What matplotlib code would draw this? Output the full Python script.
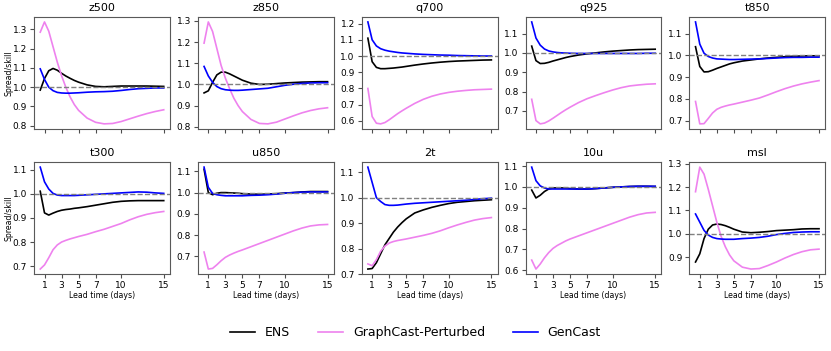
import numpy as np
import matplotlib
matplotlib.use("Agg")
import matplotlib.pyplot as plt
from matplotlib.ticker import MultipleLocator

# lead time in days
lead = [0.5, 1, 1.5, 2, 2.5, 3, 3.5, 4, 4.5, 5, 6, 7, 8, 9, 10, 11, 12, 13, 14, 15]

variables = ['z500', 'z850', 'q700', 'q925', 't850',
             't300', 'u850', '2t', '10u', 'msl']

# spread/skill ratio per variable: ENS, GraphCast-Perturbed, GenCast
ens = {
    'z500': [0.985, 1.045, 1.085, 1.097, 1.088, 1.072, 1.058, 1.046, 1.035, 1.026,
             1.012, 1.004, 1.002, 1.004, 1.006, 1.006, 1.006, 1.006, 1.005, 1.004],
    'z850': [0.96, 0.97, 1.01, 1.045, 1.058, 1.058, 1.05, 1.04, 1.03, 1.02,
             1.006, 1.0, 1.001, 1.004, 1.007, 1.009, 1.011, 1.012, 1.013, 1.013],
    'q700': [1.11, 0.965, 0.93, 0.922, 0.922, 0.924, 0.926, 0.929, 0.932, 0.936,
             0.944, 0.951, 0.957, 0.962, 0.966, 0.969, 0.971, 0.973, 0.975, 0.976],
    'q925': [1.035, 0.96, 0.945, 0.946, 0.951, 0.958, 0.964, 0.97, 0.976, 0.981,
             0.989, 0.995, 1.0, 1.005, 1.009, 1.012, 1.015, 1.017, 1.018, 1.019],
    't850': [1.04, 0.949, 0.924, 0.925, 0.932, 0.94, 0.947, 0.954, 0.961, 0.966,
             0.974, 0.979, 0.984, 0.988, 0.991, 0.994, 0.996, 0.997, 0.998, 0.998],
    't300': [1.011, 0.921, 0.912, 0.92, 0.927, 0.932, 0.935, 0.937, 0.94, 0.942,
             0.947, 0.953, 0.959, 0.965, 0.969, 0.971, 0.972, 0.972, 0.972, 0.972],
    'u850': [1.11, 1.0, 0.99, 0.997, 1.0, 1.0, 0.999, 0.998, 0.997, 0.995,
             0.993, 0.992, 0.993, 0.995, 0.998, 1.0, 1.003, 1.005, 1.005, 1.005],
    '2t':   [0.72, 0.722, 0.745, 0.78, 0.815, 0.84, 0.865, 0.885, 0.902, 0.917,
             0.94, 0.952, 0.962, 0.97, 0.977, 0.982, 0.985, 0.988, 0.99, 0.992],
    '10u':  [0.985, 0.947, 0.96, 0.978, 0.99, 0.995, 0.995, 0.995, 0.994, 0.992,
             0.99, 0.99, 0.992, 0.995, 0.998, 1.0, 1.002, 1.003, 1.003, 1.002],
    'msl':  [0.88, 0.915, 0.98, 1.02, 1.038, 1.042, 1.04, 1.035, 1.028, 1.02,
             1.008, 1.005, 1.007, 1.01, 1.014, 1.016, 1.018, 1.021, 1.022, 1.022],
}

graphcast = {
    'z500': [1.285, 1.338, 1.29, 1.21, 1.13, 1.06, 1.0, 0.95, 0.91, 0.88,
             0.84, 0.818, 0.81, 0.812, 0.822, 0.836, 0.85, 0.863, 0.874, 0.883],
    'z850': [1.195, 1.295, 1.25, 1.17, 1.09, 1.03, 0.98, 0.935, 0.9, 0.872,
             0.835, 0.816, 0.814, 0.822, 0.837, 0.852, 0.866, 0.877, 0.885, 0.89],
    'q700': [0.8, 0.627, 0.586, 0.582, 0.59, 0.607, 0.626, 0.645, 0.662, 0.678,
             0.708, 0.733, 0.752, 0.766, 0.776, 0.783, 0.788, 0.792, 0.794, 0.796],
    'q925': [0.76, 0.65, 0.633, 0.637, 0.648, 0.662, 0.677, 0.692, 0.706, 0.719,
             0.743, 0.763, 0.779, 0.794, 0.808, 0.82, 0.829, 0.834, 0.838, 0.84],
    't850': [0.788, 0.685, 0.686, 0.71, 0.735, 0.752, 0.761, 0.767, 0.772, 0.776,
             0.785, 0.794, 0.804, 0.818, 0.833, 0.847, 0.859, 0.869, 0.877, 0.884],
    't300': [0.688, 0.705, 0.735, 0.768, 0.788, 0.8, 0.807, 0.813, 0.818, 0.823,
             0.832, 0.843, 0.853, 0.865, 0.877, 0.892, 0.905, 0.915, 0.922, 0.927],
    'u850': [0.72, 0.64, 0.643, 0.66, 0.679, 0.695, 0.706, 0.715, 0.723, 0.73,
             0.745, 0.76, 0.775, 0.79, 0.805, 0.82, 0.833, 0.843, 0.848, 0.85],
    '2t':   [0.74, 0.733, 0.757, 0.79, 0.81, 0.822, 0.828, 0.832, 0.835, 0.838,
             0.845, 0.852, 0.86, 0.87, 0.882, 0.893, 0.903, 0.912, 0.918, 0.922],
    '10u':  [0.649, 0.606, 0.63, 0.66, 0.685, 0.705, 0.719, 0.73, 0.741, 0.75,
             0.765, 0.78, 0.795, 0.81, 0.825, 0.84, 0.855, 0.867, 0.875, 0.878],
    'msl':  [1.18, 1.285, 1.255, 1.19, 1.12, 1.05, 0.99, 0.945, 0.91, 0.885,
             0.858, 0.85, 0.852, 0.865, 0.88, 0.897, 0.912, 0.924, 0.932, 0.935],
}

gencast = {
    'z500': [1.095, 1.04, 1.0, 0.982, 0.973, 0.97, 0.969, 0.969, 0.97, 0.971,
             0.974, 0.976, 0.977, 0.979, 0.983, 0.988, 0.992, 0.994, 0.996, 0.996],
    'z850': [1.085, 1.04, 1.01, 0.99, 0.98, 0.975, 0.973, 0.972, 0.972, 0.973,
             0.976, 0.979, 0.982, 0.989, 0.996, 1.001, 1.005, 1.007, 1.008, 1.008],
    'q700': [1.21, 1.1, 1.062, 1.045, 1.036, 1.03, 1.026, 1.022, 1.019, 1.017,
             1.013, 1.01, 1.008, 1.006, 1.005, 1.003, 1.002, 1.001, 1.0, 1.0],
    'q925': [1.16, 1.077, 1.04, 1.02, 1.01, 1.005, 1.002, 1.0, 0.999, 0.998,
             0.997, 0.997, 0.997, 0.997, 0.997, 0.997, 0.997, 0.997, 0.998, 0.998],
    't850': [1.154, 1.052, 1.01, 0.995, 0.988, 0.984, 0.983, 0.982, 0.981, 0.981,
             0.982, 0.983, 0.984, 0.986, 0.988, 0.99, 0.991, 0.991, 0.992, 0.992],
    't300': [1.111, 1.05, 1.02, 1.002, 0.995, 0.993, 0.993, 0.993, 0.993, 0.994,
             0.996, 0.998, 1.0, 1.002, 1.004, 1.006, 1.008, 1.007, 1.004, 1.002],
    'u850': [1.12, 1.025, 0.996, 0.99, 0.987, 0.985, 0.985, 0.985, 0.985, 0.985,
             0.987, 0.988, 0.99, 0.993, 0.997, 1.0, 1.002, 1.003, 1.003, 1.003],
    '2t':   [1.12, 1.06, 1.0, 0.985, 0.973, 0.97, 0.97, 0.971, 0.973, 0.975,
             0.978, 0.98, 0.982, 0.984, 0.986, 0.988, 0.99, 0.993, 0.996, 0.998],
    '10u':  [1.095, 1.03, 1.005, 0.995, 0.99, 0.99, 0.99, 0.99, 0.99, 0.99,
             0.99, 0.99, 0.992, 0.995, 0.998, 1.0, 1.002, 1.003, 1.003, 1.003],
    'msl':  [1.085, 1.05, 1.015, 0.995, 0.985, 0.98, 0.978, 0.977, 0.977, 0.977,
             0.98, 0.982, 0.985, 0.99, 0.997, 1.002, 1.006, 1.008, 1.009, 1.009],
}

xticks = [1, 3, 5, 7, 10, 15]

fig, axes = plt.subplots(2, 5, figsize=(8.31, 3.51), dpi=100, sharex=True)
fig.subplots_adjust(left=0.041, right=0.993, top=0.952, bottom=0.219,
                    wspace=0.206, hspace=0.295)

for ax, var in zip(axes.flat, variables):
    ax.plot(lead, ens[var], color='black', lw=1.2, label='ENS')
    ax.plot(lead, graphcast[var], color='violet', lw=1.2, label='GraphCast-Perturbed')
    ax.plot(lead, gencast[var], color='blue', lw=1.2, label='GenCast')
    ax.axhline(1.0, color='gray', ls='--', lw=1)
    ax.set_title(var, fontsize=8, pad=4)
    ax.set_xticks(xticks)
    ax.yaxis.set_major_locator(MultipleLocator(0.1))
    ax.tick_params(labelsize=6.5, length=3, pad=2, color='0.3')
    for sp in ax.spines.values():
        sp.set_color('0.35')

for ax in axes[1]:
    ax.set_xlabel('Lead time (days)', fontsize=5.6, labelpad=1)
for ax in axes[:, 0]:
    ax.set_ylabel('Spread/skill', fontsize=5.6)
    ax.yaxis.set_label_coords(-0.155, 0.5)

handles, labels = axes[0, 0].get_legend_handles_labels()
fig.legend(handles, labels, loc='center', bbox_to_anchor=(0.5, 0.052),
           ncol=3, frameon=False, fontsize=9, columnspacing=2.2)

plt.savefig('out.png', dpi=100)
